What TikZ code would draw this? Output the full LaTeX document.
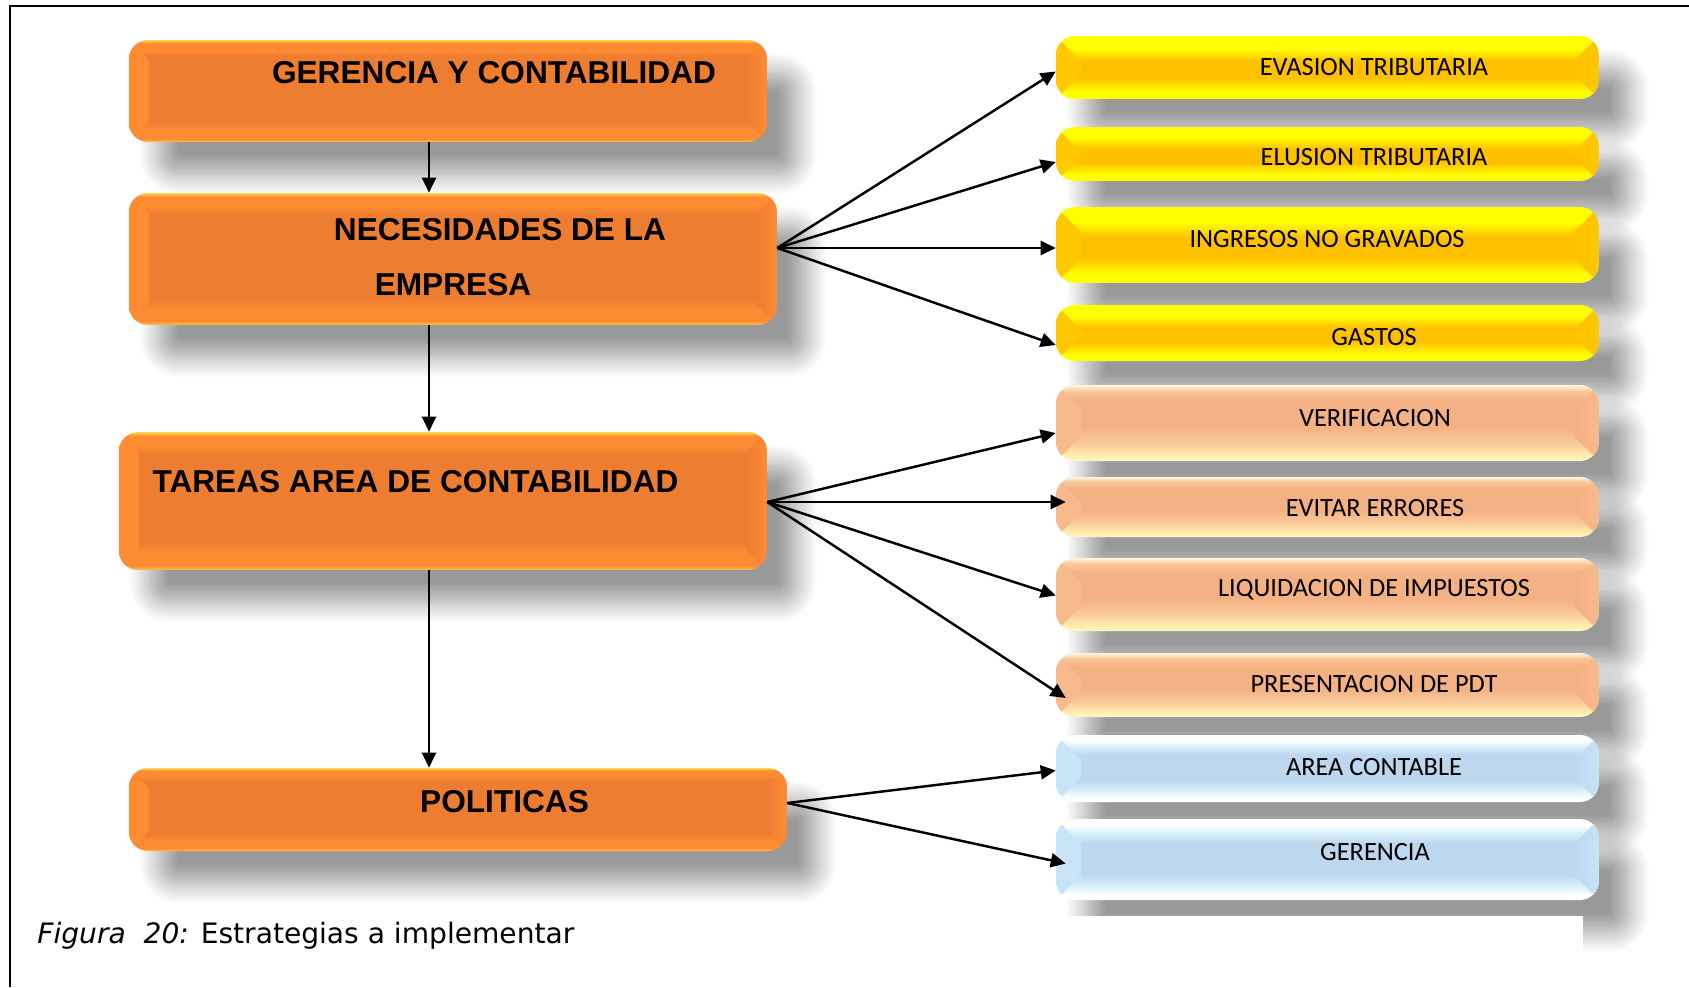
\documentclass[tikz,border=0pt]{standalone}
\usepackage{fontspec}
\newfontfamily\arialfont{Liberation Sans}
\newfontfamily\calfont{Carlito}
\newfontfamily\verdfont{DejaVu Sans}
\usetikzlibrary{arrows.meta,calc,shadows.blur}

\definecolor{nBor}{HTML}{FFC34D}
\definecolor{nBri}{HTML}{FF8B33}
\definecolor{nMed}{HTML}{ED7D31}
\definecolor{nSup}{HTML}{FFD54F}
\definecolor{aAma}{HTML}{FFFF00}
\definecolor{aBis}{HTML}{FFC800}
\definecolor{aMed}{HTML}{FFC000}
\definecolor{mBor}{HTML}{FFF6C8}
\definecolor{mAma}{HTML}{FFE8A8}
\definecolor{mCla}{HTML}{F9C99A}
\definecolor{mBis}{HTML}{F7BA8C}
\definecolor{mMed}{HTML}{F4B183}
\definecolor{mSup}{HTML}{FFF6DC}
\definecolor{zCla}{HTML}{DDF3FD}
\definecolor{zBis}{HTML}{C8E4F8}
\definecolor{zMed}{HTML}{BDD7EE}

\pgfdeclareverticalshading{sombnar}{100bp}{color(0bp)=(nBor); color(25bp)=(nBor); color(26.5bp)=(nBri); color(31bp)=(nBri); color(35bp)=(nMed); color(67bp)=(nMed); color(70bp)=(nBri); color(73.5bp)=(nBri); color(75bp)=(nSup); color(100bp)=(nSup)}
\pgfdeclareverticalshading{sombama}{100bp}{color(0bp)=(aAma); color(31bp)=(aAma); color(42bp)=(aMed); color(55bp)=(aMed); color(65bp)=(aAma); color(100bp)=(aAma)}
\pgfdeclareverticalshading{sombmel}{100bp}{color(0bp)=(mBor); color(25bp)=(mBor); color(30bp)=(mAma); color(37bp)=(mCla); color(47bp)=(mMed); color(65bp)=(mMed); color(71bp)=(mCla); color(75bp)=(mSup); color(100bp)=(mSup)}
\pgfdeclareverticalshading{sombazu}{100bp}{color(0bp)=(white); color(28bp)=(white); color(33bp)=(zCla); color(41bp)=(zMed); color(60bp)=(zMed); color(67bp)=(zCla); color(71bp)=(white); color(100bp)=(white)}

\begin{document}
\begin{tikzpicture}[x=0.02cm,y=-0.02cm,
	flecha/.style={->,line width=1.4pt},
	>={Triangle[length=0.3cm,width=0.28cm]},
	caja/.style={rounded corners=0.38cm,inner sep=0pt,shade,
		blur shadow={shadow xshift=0.6cm,shadow yshift=-0.65cm,shadow blur radius=0.4cm,
			shadow blur steps=16,shadow opacity=40}},
	bisel/.style n args={3}{path picture={
		\shade[sharp corners,left color=#1,right color=#2] (path picture bounding box.north west) -- ++(#3,-#3)
			-- ([shift={(#3,#3)}]path picture bounding box.south west) -- (path picture bounding box.south west) -- cycle;
		\shade[sharp corners,left color=#2,right color=#1] (path picture bounding box.north east) -- ++(-#3,-#3)
			-- ([shift={(-#3,#3)}]path picture bounding box.south east) -- (path picture bounding box.south east) -- cycle;}},
	izq/.style={caja,shading=sombnar,bisel={nBri}{nMed}{0.4cm}},
	der/.style={caja,minimum width=10.86cm},
	ama/.style={der,shading=sombama,bisel={aBis}{aMed}{0.5cm}},
	mel/.style={der,shading=sombmel,bisel={mBis}{mMed}{0.5cm}},
	azu/.style={der,shading=sombazu,bisel={zBis}{zMed}{0.5cm}},
	tizq/.style={font=\arialfont\bfseries\fontsize{18}{21}\selectfont,inner sep=0pt},
	tder/.style={font=\calfont\fontsize{15}{18}\selectfont,inner sep=0pt}]
	\useasboundingbox (0,0) rectangle (1689,987);
	\draw[line width=0.06cm] (10,987)--(10,6)--(1689,6);
	% columna izquierda
	\node[izq,minimum width=12.76cm,minimum height=2.04cm] (ger) at (448,91) {};
	\node[izq,minimum width=12.96cm,minimum height=2.64cm] (nec) at (453,259) {};
	\node[izq,minimum width=12.96cm,minimum height=2.76cm] (tar) at (443,501) {};
	\node[izq,minimum width=13.16cm,minimum height=1.66cm] (pol) at (458,809.5) {};
	\node[tizq] (ger-t) at (494,73) {GERENCIA Y CONTABILIDAD};
	\node[tizq] (nec-t1) at (500,230) {NECESIDADES DE LA};
	\node[tizq] (nec-t2) at (453,285) {EMPRESA};
	\node[tizq] (tar-t) at (415.5,482) {TAREAS AREA DE CONTABILIDAD};
	\node[tizq] (pol-t) at (504.5,802) {POLITICAS};
	% columna derecha
	\foreach \nm/\y/\h/\est/\tx/\ty/\txt in {
		eva/67.5/1.26cm/ama/1374/67/EVASION TRIBUTARIA,
		elu/154/1.08cm/ama/1374/157/ELUSION TRIBUTARIA,
		ing/245/1.52cm/ama/1327/239/INGRESOS NO GRAVADOS,
		gas/333/1.12cm/ama/1374/337/GASTOS,
		ver/423/1.52cm/mel/1375/418/VERIFICACION,
		evi/507/1.2cm/mel/1375/508/EVITAR ERRORES,
		liq/594.5/1.46cm/mel/1374/590/LIQUIDACION DE IMPUESTOS,
		pre/685/1.28cm/mel/1374/684/PRESENTACION DE PDT,
		are/768.5/1.34cm/azu/1374/767/AREA CONTABLE,
		grc/859.5/1.62cm/azu/1375/852/GERENCIA}{
		\node[\est,minimum height=\h] (\nm) at (1327.5,\y) {};
		\node[tder] (\nm-t) at (\tx,\ty) {\txt};}
	% flechas
	\coordinate (eje) at (429,0);
	\draw[flecha] (ger.south -| eje)--(nec.north -| eje);
	\draw[flecha] (nec.south -| eje)--(tar.north -| eje);
	\draw[flecha] (tar.south -| eje)--(pol.north -| eje);
	\foreach \d/\dx/\dy in {eva/0/4,elu/0/8,ing/0/3,gas/0/12}
		\draw[flecha] ($(nec.east)+(0,-11)$)--($(\d.west)+(\dx,\dy)$);
	\foreach \d/\dx/\dy in {ver/0/10,evi/10/-5,liq/0/1,pre/10/13}
		\draw[flecha] ($(tar.east)+(0,1)$)--($(\d.west)+(\dx,\dy)$);
	\foreach \d/\dx/\dy in {are/0/2,grc/10/4}
		\draw[flecha] ($(pol.east)+(0,-6.5)$)--($(\d.west)+(\dx,\dy)$);
	% leyenda
	\fill[white] (13,916) rectangle (1583,990);
	\node[anchor=base west,inner sep=0pt,font=\verdfont\fontsize{16}{19}\selectfont] (ley) at (37,943)
		{\textit{Figura\ \ 20:} Estrategias a implementar};
\end{tikzpicture}
\end{document}
